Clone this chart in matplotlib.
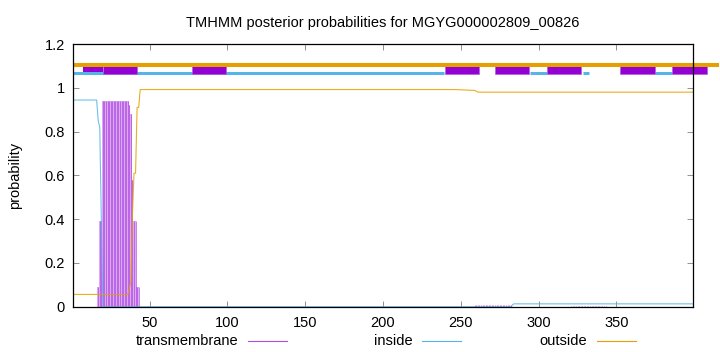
import matplotlib
matplotlib.use("Agg")
import matplotlib.pyplot as plt
from matplotlib.patches import Rectangle
from matplotlib.lines import Line2D

plt.rcParams['font.family'] = ['Liberation Sans', 'DejaVu Sans']

# cores padrão do gnuplot
c_tm = '#9400d3'
c_in = '#56b4e9'
c_out = '#e69f00'

title = 'TMHMM posterior probabilities for MGYG000002809_00826'
seq_len = 399

# probabilidade de transmembrana por resíduo (impulsos)
tm_pos = [17, 18, 19, 20, 21, 22, 23, 24, 25, 26, 27, 28, 29, 30, 31, 32, 33,
          34, 35, 36, 37, 38, 39, 40, 41, 42, 43]
tm_val = [0.09, 0.39, 0.39, 0.94, 0.94, 0.94, 0.94, 0.94, 0.94, 0.94, 0.94,
          0.94, 0.94, 0.94, 0.94, 0.94, 0.94, 0.94, 0.94, 0.94, 0.92, 0.88,
          0.58, 0.39, 0.39, 0.09, 0.09]
tm_pos_low = [259, 260, 261, 262, 263, 264, 265, 266, 267, 268, 269, 270, 271,
              272, 273, 274, 275, 276, 277, 278, 279, 280, 281, 282,
              321, 322, 323, 324, 325, 326, 327, 328, 329, 330, 331, 332, 333,
              334, 335, 336, 337, 338, 339, 340, 341, 342, 343]
tm_val_low = [0.009, 0.01, 0.01, 0.01, 0.01, 0.01, 0.01, 0.01, 0.01, 0.01,
              0.01, 0.01, 0.01, 0.01, 0.01, 0.01, 0.01, 0.01, 0.01, 0.01,
              0.01, 0.01, 0.01, 0.009,
              0.004, 0.005, 0.005, 0.005, 0.005, 0.005, 0.005, 0.005, 0.005,
              0.005, 0.005, 0.005, 0.005, 0.005, 0.005, 0.005, 0.005, 0.005,
              0.005, 0.005, 0.005, 0.005, 0.004]

# curvas inside / outside
in_x = [1, 16, 17, 18, 19, 20, 282, 284, 399]
in_y = [0.944, 0.944, 0.85, 0.82, 0.40, 0.0, 0.0, 0.013, 0.013]
out_x = [1, 36, 37, 38, 39, 40, 41, 42, 43, 44, 246, 259, 261, 399]
out_y = [0.056, 0.056, 0.08, 0.12, 0.42, 0.61, 0.61, 0.91, 0.91, 0.992,
         0.992, 0.988, 0.980, 0.980]

# topologia no topo
out_seg = [(1, 416)]
in_seg = [(1, 239), (294.5, 305.5), (328.5, 332.5), (375, 385.5)]
tm_seg = [(20, 42), (77, 99), (240, 262), (272, 294), (305.5, 327.5),
          (352, 374.5), (386, 408)]
tm_thin = [(7, 20)]

fig = plt.figure(figsize=(7.2, 3.52), dpi=100)
ax = fig.add_axes([73.3 / 720, 1 - 306.7 / 352, 619.4 / 720, 262.7 / 352])

# impulsos de transmembrana
ax.bar(tm_pos, tm_val, width=1.0, color='#dcaaf2', linewidth=0, zorder=1)
ax.vlines(tm_pos, 0, tm_val, color='#a83ee0', lw=0.6, alpha=0.75, zorder=2)
ax.vlines(tm_pos_low, 0, tm_val_low, color=c_tm, lw=0.8, alpha=0.5, zorder=2)

ax.plot(in_x, in_y, color=c_in, lw=0.8, alpha=0.85, zorder=3)
ax.plot(out_x, out_y, color=c_out, lw=0.8, alpha=0.85, zorder=3)

# barras de topologia
for a, b in in_seg:
    ax.plot([a, b], [1.067, 1.067], color=c_in, lw=2.2, solid_capstyle='butt',
            clip_on=False, zorder=4)
for a, b in tm_thin:
    ax.add_patch(Rectangle((a, 1.074), b - a, 0.023, facecolor=c_tm,
                           edgecolor='none', clip_on=False, zorder=5))
for a, b in tm_seg:
    ax.add_patch(Rectangle((a, 1.062), b - a, 0.045, facecolor=c_tm,
                           edgecolor='#b060e0', lw=0.5, clip_on=False, zorder=5))
for a, b in out_seg:
    ax.plot([a, b], [1.106, 1.106], color=c_out, lw=2.9, solid_capstyle='butt',
            clip_on=False, zorder=6)

ax.set_xlim(1, seq_len)
ax.set_ylim(0, 1.2)
ax.set_xticks([50, 100, 150, 200, 250, 300, 350])
ax.set_yticks([0, 0.2, 0.4, 0.6, 0.8, 1.0, 1.2])
ax.set_yticklabels(['0', '0.2', '0.4', '0.6', '0.8', '1', '1.2'])
ax.tick_params(direction='in', length=4, width=0.6, color='#808080',
               top=True, right=True, labelsize=10.5)
ax.tick_params(axis='x', pad=7)
ax.tick_params(axis='y', pad=6)
for s in ax.spines.values():
    s.set_linewidth(0.9)
    s.set_color('black')
    s.set_zorder(7)

fig.text(383 / 720, 1 - 23 / 352, title, ha='center', va='center', fontsize=10.5)
fig.text(15 / 720, 1 - 175 / 352, 'probability', rotation=90, ha='center',
         va='center', fontsize=10.5)

# legenda no estilo gnuplot
leg = [('transmembrane', '#a850e0', 238, 248), ('inside', c_in, 413, 422),
       ('outside', c_out, 587, 597)]
for name, col, tx, lx in leg:
    fig.text(tx / 720, 1 - 341 / 352, name, ha='right', va='center', fontsize=10.5)
    fig.add_artist(Line2D([lx / 720, (lx + 39) / 720], [1 - 341 / 352] * 2,
                          color=col, lw=0.8, transform=fig.transFigure))

plt.savefig('out.png', dpi=100)
